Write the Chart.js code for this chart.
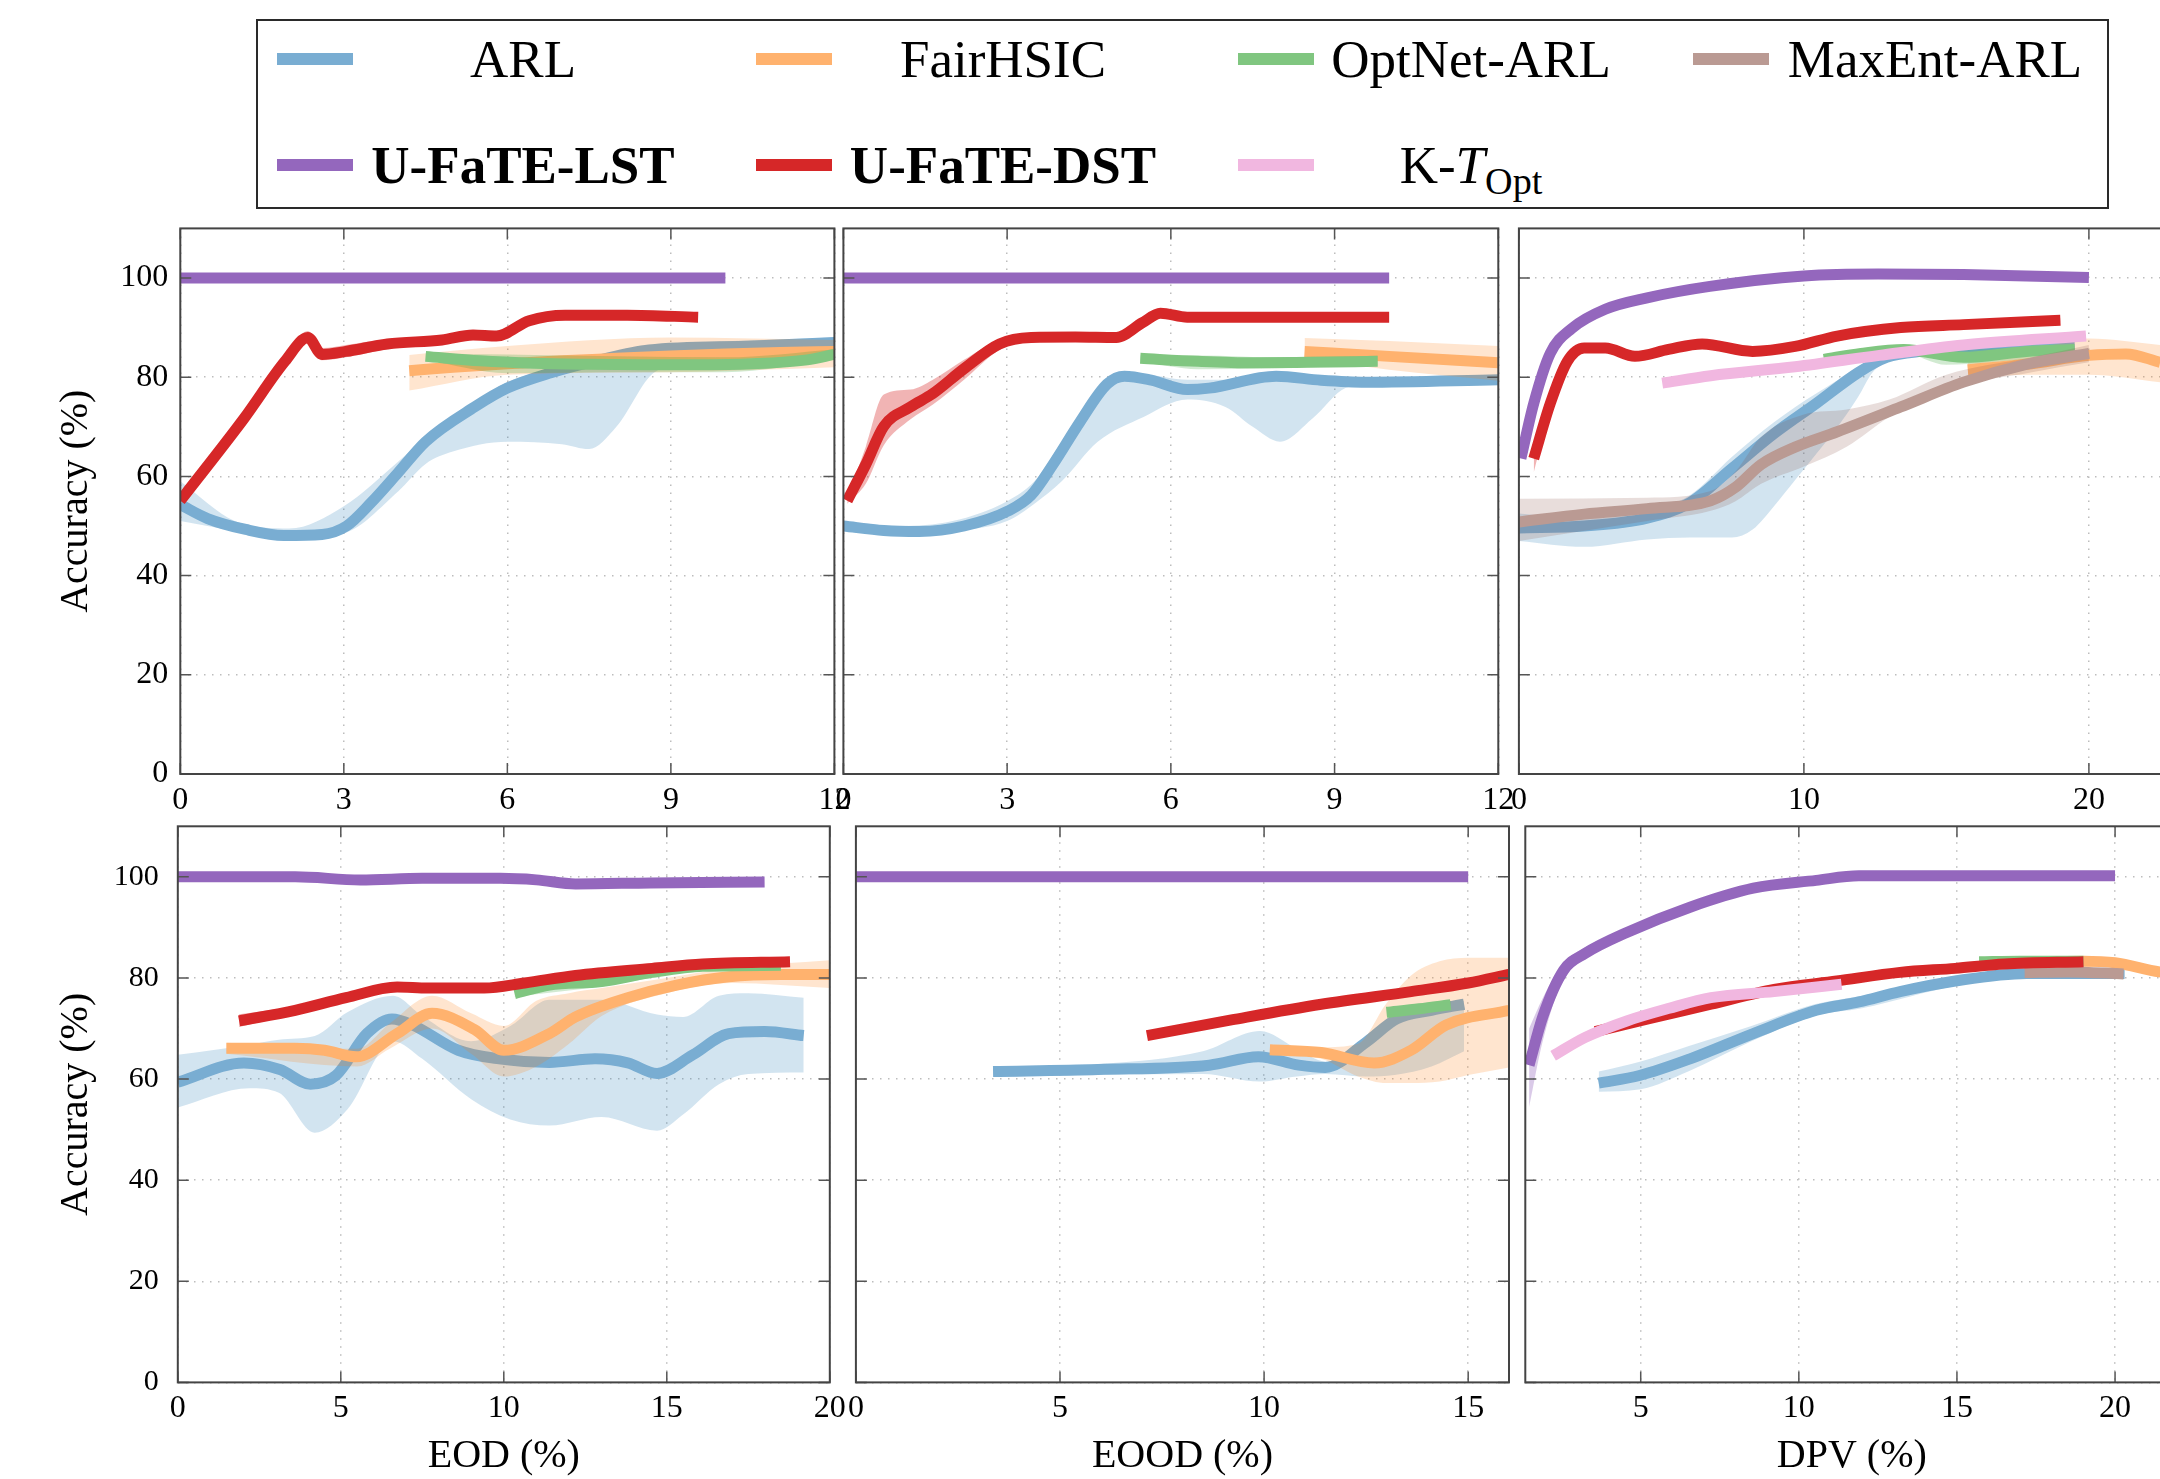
<!DOCTYPE html>
<html>
<head>
<meta charset="utf-8">
<script src="https://cdn.jsdelivr.net/npm/chart.js@4.4.1/dist/chart.umd.min.js"></script>
<style>
html,body{margin:0;padding:0;background:#fff;width:2160px;height:1479px;overflow:hidden;position:relative;}
canvas{position:absolute;}
#legendBox{position:absolute;left:256px;top:19px;width:1853px;height:190px;border:2px solid #2a2a2a;box-sizing:border-box;}
.sw{position:absolute;width:76px;height:12px;}
.lt{position:absolute;font-family:'Liberation Serif','Times New Roman',serif;font-size:53px;line-height:1;white-space:nowrap;transform:translate(-50%,-50%);color:#000;}
.lt sub{font-size:0.72em;vertical-align:-0.3em;line-height:0;}
#fontprobe{position:absolute;left:-500px;top:-500px;font-family:'Liberation Serif';font-size:32px;}
</style>
</head>
<body>
<div id="fontprobe">0123456789 Accuracy (%) EOD</div>
<div id="legendBox"></div>
<script>
// ---------------- categories / labels ----------------
const methods = ['ARL', 'FairHSIC', 'OptNet-ARL', 'MaxEnt-ARL', 'U-FaTE-LST', 'U-FaTE-DST', 'K-TOpt'];
const methodKeys = ['ARL', 'Fair', 'Opt', 'Max', 'LST', 'DST', 'KT'];
const yTitle = 'Accuracy (%)';
const xTitles = ['EOD (%)', 'EOOD (%)', 'DPV (%)'];
const yTicks = [0, 20, 40, 60, 80, 100];
const tEOD_xTicks = [0, 3, 6, 9, 12];
const tEOOD_xTicks = [0, 3, 6, 9, 12];
const tDPV_xTicks = [0, 10, 20];
const bEOD_xTicks = [0, 5, 10, 15, 20];
const bEOOD_xTicks = [0, 5, 10, 15];
const bDPV_xTicks = [5, 10, 15, 20];

// ---------------- top row, EOD ----------------
const tEOD_ARL_x = [0, 0.5, 1.2, 1.9, 2.6, 3.05, 3.5, 4.0, 4.5, 5.4, 6.0, 6.8, 7.7, 8.6, 10.5, 12];
const tEOD_ARL_y = [54.3, 51.5, 49.3, 48.1, 48.3, 50.0, 54.7, 60.8, 67.0, 74.0, 77.8, 80.9, 83.5, 85.5, 86.3, 87.0];
const tEOD_ARL_bx = [0, 1, 2, 3, 4, 4.5, 5, 6, 7, 7.5, 8, 8.7, 9.5, 12];
const tEOD_ARL_lo = [51, 49, 47.5, 48.5, 57, 62.5, 65, 67, 66.5, 65.5, 70, 81, 83, 84.5];
const tEOD_ARL_hi = [59, 51, 49.5, 54, 63, 68, 72, 79, 82, 83, 84.5, 86.5, 87, 88];
const tEOD_Fair_x = [4.2, 5, 6, 7, 8, 9, 10, 11, 12];
const tEOD_Fair_y = [81.3, 82.0, 82.7, 83.3, 83.8, 84.3, 84.7, 85.0, 85.2];
const tEOD_Fair_bx = [4.2, 6, 9, 12];
const tEOD_Fair_lo = [77.3, 80.5, 81, 82];
const tEOD_Fair_hi = [84.5, 86.3, 88, 87.5];
const tEOD_Opt_x = [4.5, 5.5, 6.5, 7.5, 8.5, 9.5, 10.5, 11.5, 12];
const tEOD_Opt_y = [84.2, 83.3, 82.8, 82.6, 82.5, 82.5, 82.7, 83.5, 84.6];
const tEOD_Opt_bx = [4.5, 6, 8, 10, 12];
const tEOD_Opt_lo = [83.5, 80.8, 81.0, 81.0, 83.5];
const tEOD_Opt_hi = [84.8, 84.6, 84.2, 84.0, 85.6];
const tEOD_LST_x = [0, 10];
const tEOD_LST_y = [100, 100];
const tEOD_DST_x = [0, 1.17, 1.92, 2.34, 2.6, 3.04, 3.8, 4.8, 5.37, 5.8, 6.4, 7.06, 8.2, 9.5];
const tEOD_DST_y = [55.1, 71.7, 83.2, 88.0, 84.6, 85.2, 86.7, 87.5, 88.5, 88.3, 91.4, 92.5, 92.5, 92.1];
const tEOD_DST_lo = [54.8, 71.0, 82.3, 86.8, 83.4, 84.0, 85.7, 86.8, 88.0, 87.8, 91.0, 92.1, 92.1, 91.7];
const tEOD_DST_hi = [55.4, 72.4, 84.4, 89.3, 85.9, 86.5, 87.7, 88.2, 89.0, 88.8, 91.8, 92.9, 92.9, 92.5];

// ---------------- top row, EOOD ----------------
const tEOOD_ARL_x = [0, 0.74, 1.39, 2.21, 3.03, 3.44, 3.84, 4.33, 4.83, 5.15, 5.64, 6.3, 6.7, 7.93, 8.75, 9.57, 12];
const tEOOD_ARL_y = [50.0, 49.1, 48.9, 50.0, 53.1, 56.2, 62.4, 70.9, 78.6, 80.2, 79.4, 77.5, 77.8, 80.2, 79.4, 79.0, 79.5];
const tEOOD_ARL_bx = [0, 1, 2, 3, 3.5, 4, 4.66, 5.5, 6.3, 7, 7.5, 8, 8.6, 9.2, 10, 12];
const tEOOD_ARL_lo = [49, 48.5, 49, 51, 54.5, 59, 67, 72, 75.5, 74, 70, 67, 71.7, 77.8, 79, 79];
const tEOOD_ARL_hi = [51, 50, 51, 55, 59, 67, 77, 80.5, 79.5, 79.5, 80.5, 81, 80.5, 80, 80, 80.2];
const tEOOD_Fair_x = [8.45, 10, 12];
const tEOOD_Fair_y = [85.2, 84.2, 82.9];
const tEOOD_Fair_lo = [83.8, 81.5, 79.3];
const tEOOD_Fair_hi = [87.9, 87.3, 86.3];
const tEOOD_Opt_x = [5.44, 6.5, 7.5, 8.5, 9.79];
const tEOOD_Opt_y = [83.8, 83.2, 82.9, 83.0, 83.2];
const tEOOD_Opt_bx = [5.44, 6.5, 8, 9.79];
const tEOOD_Opt_lo = [83.2, 81.6, 81.8, 82.4];
const tEOOD_Opt_hi = [84.4, 84.4, 84.0, 84.3];
const tEOOD_LST_x = [0, 10];
const tEOOD_LST_y = [100, 100];
const tEOOD_DST_x = [0.07, 0.41, 0.74, 1.23, 1.64, 2.21, 2.86, 3.44, 4.25, 5.0, 5.48, 5.81, 6.3, 7.9, 10.0];
const tEOOD_DST_y = [55.1, 62.4, 70.1, 74.0, 76.7, 81.7, 86.7, 88.0, 88.1, 88.0, 91.0, 92.9, 92.1, 92.1, 92.1];
const tEOOD_DST_lo = [54.5, 58.5, 66.3, 71.5, 74.5, 79.5, 85.5, 87.4, 87.7, 87.6, 90.6, 92.5, 91.7, 91.7, 91.7];
const tEOOD_DST_hi = [55.7, 66.0, 76.5, 77.5, 79.5, 83.5, 87.5, 88.6, 88.5, 88.4, 91.4, 93.3, 92.5, 92.5, 92.5];

// ---------------- top row, DPV ----------------
const tDPV_ARL_x = [0, 2.29, 4.5, 6, 7.47, 8.95, 10.43, 11.9, 12.9, 14.1, 17.1, 19.5];
const tDPV_ARL_y = [49.6, 50.0, 51.6, 54.7, 61.6, 68.6, 74.7, 80.9, 84.0, 85.2, 86.0, 86.0];
const tDPV_ARL_bx = [0, 2.29, 4.5, 6, 7.47, 8.2, 8.95, 9.7, 10.43, 11.2, 11.9, 12.4, 13, 14.1, 19.5];
const tDPV_ARL_lo = [47, 45.8, 47.3, 47.7, 47.7, 49.3, 54, 59.3, 64.5, 70.1, 76, 80.9, 83.3, 84.5, 85.4];
const tDPV_ARL_hi = [52.5, 51.5, 53, 56.2, 63.9, 67.5, 70.9, 74, 76.7, 79.5, 82.1, 83.5, 85.2, 85.8, 86.6];
const tDPV_Fair_x = [15.75, 17.8, 20, 21.3, 22.5];
const tDPV_Fair_y = [81.5, 82.6, 84.4, 84.7, 83.0];
const tDPV_Fair_bx = [15.75, 18, 20, 22.5];
const tDPV_Fair_lo = [80, 80.5, 80.5, 79];
const tDPV_Fair_hi = [83.5, 85.5, 87.8, 86.5];
const tDPV_Opt_x = [10.7, 12, 13.5, 15.6, 17.8, 19.5];
const tDPV_Opt_y = [83.6, 84.8, 85.6, 84.0, 85.2, 85.6];
const tDPV_Opt_bx = [10.7, 13.5, 15, 16.5, 19.5];
const tDPV_Opt_lo = [83, 84.8, 82.5, 83, 84.8];
const tDPV_Opt_hi = [84.3, 86.3, 85.3, 85.8, 86.4];
const tDPV_Max_x = [0, 2.29, 4.5, 6.73, 7.6, 8.5, 9.69, 11.17, 13.4, 15.6, 17.8, 20];
const tDPV_Max_y = [50.8, 52.4, 53.5, 55.1, 57.8, 62.4, 65.9, 69.0, 74.0, 79.0, 82.6, 84.8];
const tDPV_Max_bx = [0, 4.5, 6.7, 7.6, 8.5, 10, 11.5, 13, 15, 18, 20];
const tDPV_Max_lo = [47, 51, 53, 55, 58.5, 62, 66, 72, 77.5, 81, 83];
const tDPV_Max_hi = [55.5, 55.7, 57, 61, 68, 72.5, 73.5, 75.5, 80.5, 84, 86.5];
const tDPV_LST_x = [0.07, 0.52, 1.1, 1.85, 3.03, 4.5, 6.7, 10, 12.6, 15.6, 20];
const tDPV_LST_y = [63.6, 74.7, 84.8, 89.8, 93.7, 96.0, 98.3, 100.4, 100.8, 100.7, 100.1];
const tDPV_DST_x = [0.52, 1.1, 1.7, 2.29, 3.03, 4.07, 5.25, 6.43, 8.2, 9.69, 11.17, 13.4, 15.6, 19.0];
const tDPV_DST_y = [63.6, 74.7, 83.2, 85.9, 85.9, 84.2, 85.6, 86.7, 85.2, 86.2, 88.3, 90.0, 90.6, 91.5];
const tDPV_DST_lo = [60.8, 73.3, 82.4, 85.3, 85.4, 83.8, 85.2, 86.3, 84.8, 85.8, 87.9, 89.6, 90.2, 91.1];
const tDPV_DST_hi = [64.5, 75.8, 84.0, 86.5, 86.4, 84.6, 86.0, 87.1, 85.6, 86.6, 88.7, 90.4, 91.0, 91.9];
const tDPV_KT_x = [5.03, 6.73, 9.69, 12.65, 15.6, 19.9];
const tDPV_KT_y = [78.8, 80.3, 82.1, 84.4, 86.5, 88.3];

// ---------------- bottom row, EOD ----------------
const bEOD_ARL_x = [0, 2.03, 3.13, 4.07, 4.85, 5.8, 6.57, 7.2, 8.6, 9.86, 11.4, 12.8, 13.8, 14.7, 15.8, 16.9, 18.0, 19.2];
const bEOD_ARL_y = [59.4, 63.2, 61.9, 59.0, 60.7, 69.0, 71.9, 70.7, 65.7, 64.0, 63.3, 64.0, 63.2, 61.1, 64.8, 69.0, 69.4, 68.6];
const bEOD_ARL_bx = [0, 2.2, 3.1, 4.2, 5.2, 6.6, 7.5, 9, 10.2, 11.4, 13, 14.7, 15.5, 16.6, 17.5, 19.2];
const bEOD_ARL_lo = [54.4, 58.2, 57.3, 49.4, 54, 67.5, 64, 56, 52, 50.8, 52.5, 49.8, 53, 59, 61, 61.3];
const bEOD_ARL_hi = [64.8, 66.8, 67.8, 68.5, 73.2, 76.5, 72.5, 67.5, 70.5, 75.7, 75.7, 72.75, 72.3, 76.5, 77, 76.1];
const bEOD_Fair_x = [1.49, 3.6, 4.5, 5.48, 6.73, 7.8, 9.1, 10.0, 11.4, 12.2, 13.8, 15.3, 16.9, 18.5, 20];
const bEOD_Fair_y = [66.1, 66.1, 65.7, 64.4, 69.0, 73.0, 69.8, 65.7, 69.0, 72.3, 76.1, 78.6, 80.25, 80.7, 80.7];
const bEOD_Fair_bx = [1.49, 5.5, 6.5, 7.8, 9, 10, 11, 12, 13, 15, 17, 20];
const bEOD_Fair_lo = [65, 62.5, 66, 70, 65, 60.5, 62.5, 67, 72.5, 77, 79, 78];
const bEOD_Fair_hi = [67.2, 66, 71, 76.5, 73, 70.5, 75.5, 77, 78, 80, 82, 83.5];
const bEOD_Opt_x = [10.33, 11.4, 13.0, 14.55, 16.1, 18.5];
const bEOD_Opt_y = [76.9, 78.6, 79.3, 81.1, 82.3, 82.5];
const bEOD_Opt_bx = [10.33, 13, 16, 18.5];
const bEOD_Opt_lo = [76.3, 78.3, 81.5, 82];
const bEOD_Opt_hi = [77.5, 80.2, 83, 83];
const bEOD_LST_x = [0, 3.6, 5.6, 7.5, 9.9, 11, 12.2, 14.5, 18];
const bEOD_LST_y = [100, 100, 99.4, 99.7, 99.7, 99.4, 98.6, 98.8, 99.0];
const bEOD_DST_x = [1.88, 3.6, 5.16, 6.73, 7.67, 9.4, 10.64, 12.2, 14.55, 16.1, 18.78];
const bEOD_DST_y = [71.5, 73.6, 76.1, 78.2, 78.0, 78.0, 79.0, 80.5, 81.9, 82.75, 83.2];
const bEOD_DST_lo = [70.3, 72.8, 75.6, 77.8, 77.6, 77.6, 78.6, 80.1, 81.5, 82.35, 82.8];
const bEOD_DST_hi = [72.8, 74.4, 76.6, 78.6, 78.4, 78.4, 79.4, 80.9, 82.3, 83.15, 83.6];

// ---------------- bottom row, EOOD ----------------
const bEOOD_ARL_x = [3.36, 5.93, 8.66, 9.86, 10.85, 11.5, 12.5, 13.25, 14.1, 14.9];
const bEOOD_ARL_y = [61.5, 61.9, 62.75, 64.4, 62.75, 62.3, 67.3, 71.9, 73.6, 74.8];
const bEOOD_ARL_bx = [3.36, 6, 8.5, 9.9, 10.8, 11.5, 12.5, 13.2, 14.1, 14.9];
const bEOOD_ARL_lo = [60.5, 60.8, 61, 59.5, 60.5, 61, 60.5, 60.8, 62.5, 65.5];
const bEOOD_ARL_hi = [62.5, 63, 65.5, 69.5, 66, 63.5, 68, 72.5, 74.5, 75.5];
const bEOOD_Fair_x = [10.14, 11.4, 12.7, 13.6, 14.46, 16];
const bEOOD_Fair_y = [65.8, 65.25, 63.2, 65.7, 70.7, 73.6];
const bEOOD_Fair_bx = [10.14, 11.4, 12.3, 13, 13.6, 14.3, 15, 16];
const bEOOD_Fair_lo = [65, 64, 60.5, 59.2, 59.2, 59.5, 60.8, 62.3];
const bEOOD_Fair_hi = [66.6, 66.3, 67, 75, 80.5, 83.3, 84, 84];
const bEOOD_Opt_x = [13.0, 13.8, 14.57];
const bEOOD_Opt_y = [73.2, 73.9, 74.7];
const bEOOD_Opt_lo = [72.4, 73.1, 73.9];
const bEOOD_Opt_hi = [74.0, 74.7, 75.5];
const bEOOD_LST_x = [0, 15];
const bEOOD_LST_y = [100, 100];
const bEOOD_DST_x = [7.13, 9.2, 11.4, 13.6, 15.0, 16];
const bEOOD_DST_y = [68.6, 71.7, 74.8, 77.3, 79.0, 80.7];

// ---------------- bottom row, DPV ----------------
const bDPV_ARL_x = [3.67, 4.96, 6.56, 8.56, 10.55, 11.9, 13.2, 14.95, 17.2, 20.3];
const bDPV_ARL_y = [59.2, 60.7, 64.0, 69.0, 73.6, 75.25, 77.3, 79.4, 80.9, 80.9];
const bDPV_ARL_bx = [3.67, 5, 6.5, 8.5, 10.5, 12, 15, 17.2, 20.3];
const bDPV_ARL_lo = [57.5, 58, 61.5, 67.5, 72.5, 74, 78.5, 80.3, 80.2];
const bDPV_ARL_hi = [61.5, 63.5, 66.5, 70.5, 74.8, 76.5, 80.5, 81.5, 81.8];
const bDPV_Fair_x = [17, 19, 20, 21.4, 22];
const bDPV_Fair_y = [83.0, 83.3, 83.0, 81.2, 80.8];
const bDPV_Opt_x = [15.7, 17, 19];
const bDPV_Opt_y = [83.2, 83.3, 83.3];
const bDPV_Max_x = [17.14, 18.5, 20.27];
const bDPV_Max_y = [81.1, 81.2, 80.8];
const bDPV_LST_x = [1.47, 1.9, 2.56, 3.23, 4.56, 6.56, 8.56, 10.55, 11.9, 13.9, 20];
const bDPV_LST_y = [62.75, 72.3, 81.5, 84.8, 89.0, 94.0, 97.75, 99.3, 100.2, 100.2, 100.2];
const bDPV_LST_bx = [1.47, 1.9, 2.56, 3.23, 4.56, 6.56, 8.56, 10.55, 11.9, 20];
const bDPV_LST_lo = [54.5, 67.5, 80, 84, 88.3, 93.4, 97.2, 98.7, 99.6, 99.6];
const bDPV_LST_hi = [70, 76, 83, 86, 89.8, 94.6, 98.3, 99.9, 100.8, 100.8];
const bDPV_DST_x = [3.56, 5.23, 7.22, 9.22, 11.2, 13.2, 14.95, 16.5, 19.0];
const bDPV_DST_y = [69.4, 71.9, 74.8, 77.75, 79.4, 81.1, 81.9, 82.75, 83.2];
const bDPV_KT_x = [2.23, 3.23, 4.56, 5.9, 7.22, 9.22, 11.35];
const bDPV_KT_y = [64.6, 68.2, 71.5, 74.0, 76.1, 77.3, 78.75];

// ---------------- styles ----------------
const FONT = "'Liberation Serif', 'Times New Roman', serif";
const LINE_W = 11;
const STY = {
  ARL:  {line: 'rgb(121,173,210)', band: 'rgba(31,119,180,0.2)'},
  Fair: {line: 'rgb(255,178,110)', band: 'rgba(255,127,14,0.2)'},
  Opt:  {line: 'rgb(128,198,128)', band: 'rgba(44,160,44,0.22)'},
  Max:  {line: 'rgb(186,154,147)', band: 'rgba(140,86,75,0.2)'},
  LST:  {line: 'rgb(148,103,189)', band: 'rgba(148,103,189,0.35)'},
  DST:  {line: 'rgb(214,39,40)',   band: 'rgba(214,39,40,0.35)'},
  KT:   {line: 'rgb(241,183,224)', band: 'rgba(227,119,194,0.2)'}
};

// ---------------- legend (HTML text) ----------------
const legCols = [{sx: 277, tx: 523}, {sx: 756, tx: 1003}, {sx: 1238, tx: 1471}, {sx: 1693, tx: 1935}];
const legRows = [59, 165];
methods.forEach((m, i) => {
  const col = legCols[i % 4], row = legRows[Math.floor(i / 4)];
  const sw = document.createElement('div');
  sw.className = 'sw';
  sw.style.left = col.sx + 'px';
  sw.style.top = (row - 6) + 'px';
  sw.style.background = STY[methodKeys[i]].line;
  document.body.appendChild(sw);
  const t = document.createElement('div');
  t.className = 'lt';
  t.style.left = col.tx + 'px';
  t.style.top = row + 'px';
  if (m === 'K-TOpt') {
    t.innerHTML = 'K-<i>T</i><sub>Opt</sub>';
  } else {
    t.textContent = m;
  }
  if (m.indexOf('U-FaTE') === 0) t.style.fontWeight = 'bold';
  document.body.appendChild(t);
});

// ---------------- helpers ----------------
function pts(xs, ys) { return xs.map((x, i) => ({x: x, y: ys[i]})); }

function buildDatasets(series) {
  const ds = [];
  series.forEach(s => {
    const st = STY[s[0]];
    if (s[3]) {
      ds.push({data: pts(s[3], s[4]), borderWidth: 0, borderColor: 'rgba(0,0,0,0)', pointRadius: 0,
               fill: false, cubicInterpolationMode: 'monotone', clip: 0});
      ds.push({data: pts(s[3], s[5]), borderWidth: 0, borderColor: 'rgba(0,0,0,0)', pointRadius: 0,
               fill: '-1', backgroundColor: st.band, cubicInterpolationMode: 'monotone', clip: 0});
    }
    ds.push({data: pts(s[1], s[2]), borderColor: st.line, borderWidth: LINE_W, pointRadius: 0, fill: false,
             cubicInterpolationMode: 'monotone', borderCapStyle: 'butt', borderJoinStyle: 'round', clip: 0});
  });
  ds.forEach((d, i) => { d.order = -i; });
  return ds;
}

const framePlugin = {
  id: 'frame',
  afterDraw(chart) {
    const ctx = chart.ctx, a = chart.chartArea, xs = chart.scales.x, ys = chart.scales.y;
    const tl = 11;
    ctx.save();
    ctx.strokeStyle = '#555';
    ctx.lineWidth = 1.5;
    ctx.beginPath();
    xs.ticks.forEach(t => {
      const px = xs.getPixelForValue(t.value);
      ctx.moveTo(px, a.bottom); ctx.lineTo(px, a.bottom - tl);
      ctx.moveTo(px, a.top); ctx.lineTo(px, a.top + tl);
    });
    ys.ticks.forEach(t => {
      const py = ys.getPixelForValue(t.value);
      ctx.moveTo(a.left, py); ctx.lineTo(a.left + tl, py);
      ctx.moveTo(a.right, py); ctx.lineTo(a.right - tl, py);
    });
    ctx.stroke();
    ctx.strokeStyle = '#444';
    ctx.lineWidth = 2;
    ctx.strokeRect(a.left, a.top, a.right - a.left, a.bottom - a.top);
    ctx.restore();
  }
};

// ---------------- panels ----------------
const panels = [
  {L: 180.3, T: 228.4, R: 834.4, B: 774.0, xmin: 0, xmax: 12, xticks: tEOD_xTicks, yLab: true, yFont: 32, yPad: 12, xTitle: null,
   series: [['ARL', tEOD_ARL_x, tEOD_ARL_y, tEOD_ARL_bx, tEOD_ARL_lo, tEOD_ARL_hi],
            ['Fair', tEOD_Fair_x, tEOD_Fair_y, tEOD_Fair_bx, tEOD_Fair_lo, tEOD_Fair_hi],
            ['Opt', tEOD_Opt_x, tEOD_Opt_y, tEOD_Opt_bx, tEOD_Opt_lo, tEOD_Opt_hi],
            ['LST', tEOD_LST_x, tEOD_LST_y],
            ['DST', tEOD_DST_x, tEOD_DST_y, tEOD_DST_x, tEOD_DST_lo, tEOD_DST_hi]]},
  {L: 843.4, T: 228.4, R: 1498.3, B: 774.0, xmin: 0, xmax: 12, xticks: tEOOD_xTicks, yLab: false, xTitle: null,
   series: [['ARL', tEOOD_ARL_x, tEOOD_ARL_y, tEOOD_ARL_bx, tEOOD_ARL_lo, tEOOD_ARL_hi],
            ['Fair', tEOOD_Fair_x, tEOOD_Fair_y, tEOOD_Fair_x, tEOOD_Fair_lo, tEOOD_Fair_hi],
            ['Opt', tEOOD_Opt_x, tEOOD_Opt_y, tEOOD_Opt_bx, tEOOD_Opt_lo, tEOOD_Opt_hi],
            ['LST', tEOOD_LST_x, tEOOD_LST_y],
            ['DST', tEOOD_DST_x, tEOOD_DST_y, tEOOD_DST_x, tEOOD_DST_lo, tEOOD_DST_hi]]},
  {L: 1518.9, T: 228.4, R: 2174.4, B: 774.0, xmin: 0, xmax: 23, xticks: tDPV_xTicks, yLab: false, xTitle: null,
   series: [['ARL', tDPV_ARL_x, tDPV_ARL_y, tDPV_ARL_bx, tDPV_ARL_lo, tDPV_ARL_hi],
            ['Fair', tDPV_Fair_x, tDPV_Fair_y, tDPV_Fair_bx, tDPV_Fair_lo, tDPV_Fair_hi],
            ['Opt', tDPV_Opt_x, tDPV_Opt_y, tDPV_Opt_bx, tDPV_Opt_lo, tDPV_Opt_hi],
            ['Max', tDPV_Max_x, tDPV_Max_y, tDPV_Max_bx, tDPV_Max_lo, tDPV_Max_hi],
            ['LST', tDPV_LST_x, tDPV_LST_y],
            ['DST', tDPV_DST_x, tDPV_DST_y, tDPV_DST_x, tDPV_DST_lo, tDPV_DST_hi],
            ['KT', tDPV_KT_x, tDPV_KT_y]]},
  {L: 177.8, T: 826.3, R: 829.8, B: 1382.4, xmin: 0, xmax: 20, xticks: bEOD_xTicks, yLab: true, yFont: 30, yPad: 19, xTitle: xTitles[0],
   series: [['ARL', bEOD_ARL_x, bEOD_ARL_y, bEOD_ARL_bx, bEOD_ARL_lo, bEOD_ARL_hi],
            ['Fair', bEOD_Fair_x, bEOD_Fair_y, bEOD_Fair_bx, bEOD_Fair_lo, bEOD_Fair_hi],
            ['Opt', bEOD_Opt_x, bEOD_Opt_y, bEOD_Opt_bx, bEOD_Opt_lo, bEOD_Opt_hi],
            ['LST', bEOD_LST_x, bEOD_LST_y],
            ['DST', bEOD_DST_x, bEOD_DST_y, bEOD_DST_x, bEOD_DST_lo, bEOD_DST_hi]]},
  {L: 855.9, T: 826.3, R: 1509.0, B: 1382.4, xmin: 0, xmax: 16, xticks: bEOOD_xTicks, yLab: false, xTitle: xTitles[1],
   series: [['ARL', bEOOD_ARL_x, bEOOD_ARL_y, bEOOD_ARL_bx, bEOOD_ARL_lo, bEOOD_ARL_hi],
            ['Fair', bEOOD_Fair_x, bEOOD_Fair_y, bEOOD_Fair_bx, bEOOD_Fair_lo, bEOOD_Fair_hi],
            ['Opt', bEOOD_Opt_x, bEOOD_Opt_y, bEOOD_Opt_x, bEOOD_Opt_lo, bEOOD_Opt_hi],
            ['LST', bEOOD_LST_x, bEOOD_LST_y],
            ['DST', bEOOD_DST_x, bEOOD_DST_y]]},
  {L: 1525.3, T: 826.3, R: 2178.3, B: 1382.4, xmin: 1.35, xmax: 22, xticks: bDPV_xTicks, yLab: false, xTitle: xTitles[2],
   series: [['ARL', bDPV_ARL_x, bDPV_ARL_y, bDPV_ARL_bx, bDPV_ARL_lo, bDPV_ARL_hi],
            ['Fair', bDPV_Fair_x, bDPV_Fair_y],
            ['Opt', bDPV_Opt_x, bDPV_Opt_y],
            ['Max', bDPV_Max_x, bDPV_Max_y],
            ['LST', bDPV_LST_x, bDPV_LST_y, bDPV_LST_bx, bDPV_LST_lo, bDPV_LST_hi],
            ['DST', bDPV_DST_x, bDPV_DST_y],
            ['KT', bDPV_KT_x, bDPV_KT_y]]}
];

function makePanel(p) {
  const padT = 40, padR = 25;
  const cl = Math.floor(p.L - (p.yLab ? 160 : 20));
  const ct = Math.floor(p.T - padT);
  const yW = p.L - cl;
  const topPad = p.T - ct;
  const xHdes = p.xTitle ? 100 : 60;
  const w = Math.ceil(p.R - cl + padR);
  const h = Math.ceil(p.B - ct + xHdes);
  const rightPad = cl + w - p.R;
  const xH = ct + h - p.B;
  const cv = document.createElement('canvas');
  cv.width = w; cv.height = h;
  cv.style.left = cl + 'px'; cv.style.top = ct + 'px';
  cv.style.width = w + 'px'; cv.style.height = h + 'px';
  document.body.appendChild(cv);
  const tickFont = {family: FONT, size: 32, lineHeight: 1.2};
  const yTickFont = {family: FONT, size: p.yFont || 32, lineHeight: 1.2};
  const titleFont = {family: FONT, size: 40, lineHeight: 1.2};
  const gridOpt = {color: '#bdbdbd', lineWidth: 1.5, drawTicks: false};
  const borderOpt = {display: false, dash: [1.5, 6.5]};
  new Chart(cv, {
    type: 'line',
    data: {datasets: buildDatasets(p.series)},
    options: {
      responsive: false, animation: false, devicePixelRatio: 1, events: [],
      layout: {padding: {left: 0, top: topPad, right: rightPad, bottom: 0}},
      plugins: {legend: {display: false}, tooltip: {enabled: false}},
      scales: {
        x: {
          type: 'linear', min: p.xmin, max: p.xmax,
          afterBuildTicks: s => { s.ticks = p.xticks.map(v => ({value: v})); },
          afterFit: s => { s.height = xH; },
          ticks: {font: tickFont, color: '#000', padding: 7, maxRotation: 0, minRotation: 0, autoSkip: false},
          grid: gridOpt, border: borderOpt,
          title: p.xTitle ? {display: true, text: p.xTitle, font: titleFont, color: '#000',
                             padding: {top: 0, bottom: (ct + h) - 24 - 1456}} : {display: false}
        },
        y: {
          type: 'linear', min: 0, max: 110,
          afterBuildTicks: s => { s.ticks = yTicks.map(v => ({value: v})); },
          afterFit: s => { s.width = yW; },
          ticks: {display: p.yLab, font: yTickFont, color: '#000', padding: p.yPad || 12, autoSkip: false},
          grid: gridOpt, border: borderOpt,
          title: p.yLab ? {display: true, text: yTitle, font: titleFont, color: '#000',
                           padding: {top: 76 - 24 - cl, bottom: 0}} : {display: false}
        }
      }
    },
    plugins: [framePlugin]
  });
}

Chart.defaults.font.family = FONT;
function drawAll() { panels.forEach(makePanel); }
if (document.fonts && document.fonts.load) {
  Promise.all([
    document.fonts.load("32px 'Liberation Serif'"),
    document.fonts.load("40px 'Liberation Serif'")
  ]).then(drawAll, drawAll);
} else {
  drawAll();
}
</script>
</body>
</html>
